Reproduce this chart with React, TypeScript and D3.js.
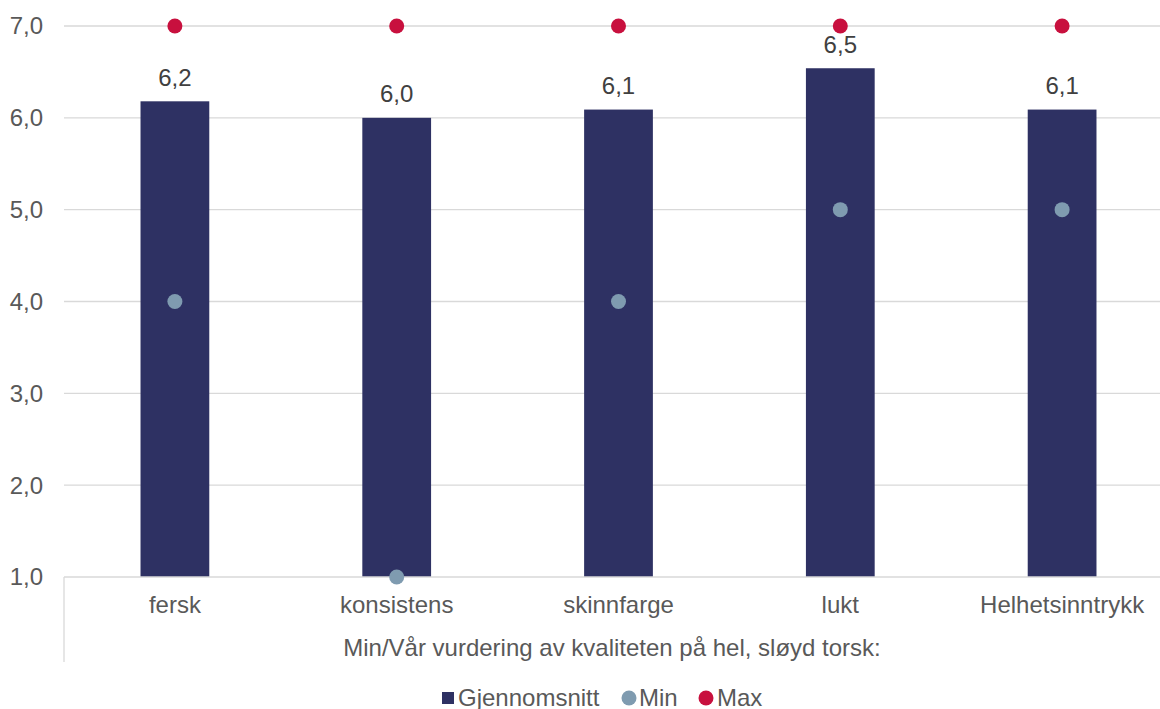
import React from "react";
import * as d3 from "d3";

const categories = ["fersk", "konsistens", "skinnfarge", "lukt", "Helhetsinntrykk"];
const avgValues = [6.18, 6.0, 6.09, 6.54, 6.09];
const avgLabels = ["6,2", "6,0", "6,1", "6,5", "6,1"];
const minValues = [4, 1, 4, 5, 5];
const maxValues = [7, 7, 7, 7, 7];
const yTicks = [1, 2, 3, 4, 5, 6, 7];
const axisTitle = "Min/Vår vurdering av kvaliteten på hel, sløyd torsk:";
const legendItems = ["Gjennomsnitt", "Min", "Max"];

const W = 1160;
const H = 709;
const BAR = "#2e3163";
const MIN = "#7f9bb0";
const MAX = "#c8103e";
const FONT = "'Liberation Sans', Arial, sans-serif";
const FS = 24;

export default function App() {
  const x = d3.scaleBand<string>().domain(categories).range([64, 1173]).paddingInner(0).paddingOuter(0);
  const y = d3.scaleLinear().domain([1, 7]).range([577, 26]);
  const bw = x.bandwidth() * 0.31;
  const cx = (c: string) => (x(c) as number) + x.bandwidth() / 2;
  const fmt = (v: number) => v.toFixed(1).replace(".", ",");
  const ly = 698;

  return (
    <svg width={W} height={H} style={{ position: "absolute", left: 0, top: 0, fontFamily: FONT }}>
      <rect width={W} height={H} fill="#fff" />
      {yTicks.map((t) => (
        <g key={t}>
          {t > 1 && <line x1={64} x2={1173} y1={y(t)} y2={y(t)} stroke="#d9d9d9" strokeWidth={1.3} />}
          <text x={43} y={y(t)} dy="0.35em" textAnchor="end" fontSize={FS} fill="#595959">
            {fmt(t)}
          </text>
        </g>
      ))}
      {categories.map((c, i) => (
        <g key={c}>
          <rect x={cx(c) - bw / 2} y={y(avgValues[i])} width={bw} height={y(1) - y(avgValues[i])} fill={BAR} />
          <text x={cx(c)} y={y(avgValues[i]) - 24} dy="0.35em" textAnchor="middle" fontSize={FS} fill="#404040">
            {avgLabels[i]}
          </text>
        </g>
      ))}
      <line x1={64} x2={1173} y1={y(1)} y2={y(1)} stroke="#d9d9d9" strokeWidth={1.3} />
      <line x1={64} x2={64} y1={y(1)} y2={662} stroke="#d9d9d9" strokeWidth={1.3} />
      {categories.map((c, i) => (
        <g key={c + "pts"}>
          <circle cx={cx(c)} cy={y(minValues[i])} r={7.5} fill={MIN} />
          <circle cx={cx(c)} cy={y(maxValues[i])} r={7.5} fill={MAX} />
          <text x={cx(c)} y={605} dy="0.35em" textAnchor="middle" fontSize={FS} fill="#595959">
            {c}
          </text>
        </g>
      ))}
      <text x={612} y={648} dy="0.35em" textAnchor="middle" fontSize={FS} fill="#595959">
        {axisTitle}
      </text>
      <g>
        <rect x={442} y={ly - 6} width={12} height={12} fill={BAR} />
        <text x={458} y={ly} dy="0.35em" fontSize={FS} fill="#595959">{legendItems[0]}</text>
        <circle cx={629} cy={ly} r={7.5} fill={MIN} />
        <text x={639} y={ly} dy="0.35em" fontSize={FS} fill="#595959">{legendItems[1]}</text>
        <circle cx={706} cy={ly} r={7.5} fill={MAX} />
        <text x={717} y={ly} dy="0.35em" fontSize={FS} fill="#595959">{legendItems[2]}</text>
      </g>
    </svg>
  );
}
